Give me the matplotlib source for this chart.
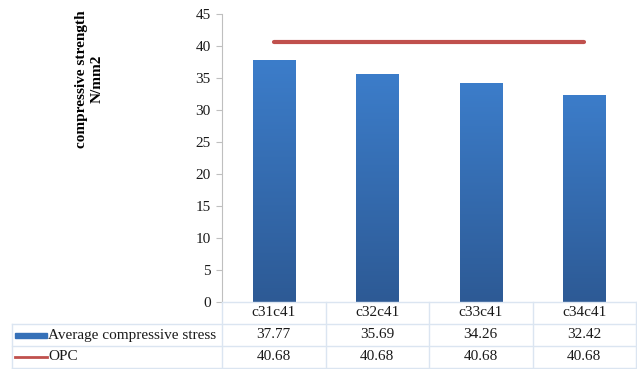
import matplotlib
matplotlib.use("Agg")
import matplotlib.pyplot as plt
import numpy as np
from matplotlib.colors import LinearSegmentedColormap
from matplotlib.transforms import blended_transform_factory
from matplotlib.patches import Rectangle

categories = ["c31c41", "c32c41", "c33c41", "c34c41"]
avg_stress = [37.77, 35.69, 34.26, 32.42]
opc = [40.68, 40.68, 40.68, 40.68]
series_names = ["Average compressive stress", "OPC"]
yticks = [0, 5, 10, 15, 20, 25, 30, 35, 40, 45]

plt.rcParams['font.family'] = ['Liberation Serif', 'DejaVu Serif']

W, H = 637, 369
fig = plt.figure(figsize=(W / 100, H / 100), dpi=100)
ax = fig.add_axes([222 / W, 1 - 302 / H, 414 / W, 288 / H])

x = np.arange(len(categories))
bars = ax.bar(x, avg_stress, width=0.41, color="#3570b8", edgecolor="none", zorder=2)
cmap = LinearSegmentedColormap.from_list("g", ["#2d5a95", "#3c7dca"])
grad = np.linspace(0, 1, 256).reshape(-1, 1)
for b in bars:
    x0, y0, w, h = b.get_x(), b.get_y(), b.get_width(), b.get_height()
    im = ax.imshow(grad, cmap=cmap, origin="lower", aspect="auto",
                   extent=[x0, x0 + w, y0, y0 + h], zorder=3)
    im.set_clip_path(b)

ax.plot(x, opc, color="#c0504d", lw=3, solid_capstyle="round", zorder=4)

ax.set_xlim(-0.5, len(categories) - 0.5)
ax.set_ylim(0, 45)
ax.set_yticks(yticks)
ax.set_xticks([])
for s in ["top", "right", "bottom"]:
    ax.spines[s].set_visible(False)
ax.spines["left"].set_color("#bfbfbf")
ax.tick_params(axis="y", length=4, color="#bfbfbf", labelsize=11, pad=4, labelcolor="#1a1a1a")

fig.text(89 / W, 1 - 79 / H, "compressive strength\nN/mm2", rotation=90, ha="center", va="center",
         fontsize=11, fontweight="bold", linespacing=1.25)

# data table
gc = "#dbe5f1"
tr = blended_transform_factory(ax.transData, fig.transFigure)
ft = fig.transFigure
row_y = [302, 324, 346, 368]
ry = [1 - v / H for v in row_y]
left_px = 12
fig.add_artist(plt.Line2D([222 / W, 636 / W], [ry[0], ry[0]], color=gc, lw=1, transform=ft))
for yy in ry[1:]:
    fig.add_artist(plt.Line2D([left_px / W, 636 / W], [yy, yy], color=gc, lw=1, transform=ft))
for i in range(len(categories) + 1):
    xv = i - 0.5
    ax.plot([xv, xv], [ry[0], ry[3]], color=gc, lw=1, transform=tr, clip_on=False)
fig.add_artist(plt.Line2D([left_px / W, left_px / W], [ry[1], ry[3]], color=gc, lw=1, transform=ft))

fs = 11
tc = "#1a1a1a"
for i, c in enumerate(categories):
    ax.text(i, (ry[0] + ry[1]) / 2, c, transform=tr, ha="center", va="center", fontsize=fs, color=tc)
    ax.text(i, (ry[1] + ry[2]) / 2, f"{avg_stress[i]:.2f}", transform=tr, ha="center", va="center", fontsize=fs, color=tc)
    ax.text(i, (ry[2] + ry[3]) / 2, f"{opc[i]:.2f}", transform=tr, ha="center", va="center", fontsize=fs, color=tc)

ym1 = (ry[1] + ry[2]) / 2
ym2 = (ry[2] + ry[3]) / 2
fig.add_artist(Rectangle((15 / W, ym1 - 2.5 / H), 32 / W, 5 / H, transform=ft, color="#3570b8"))
fig.add_artist(plt.Line2D([15 / W, 47 / W], [ym2, ym2], color="#c0504d", lw=2, transform=ft))
fig.text(48 / W, ym1, series_names[0], ha="left", va="center", fontsize=fs, color=tc)
fig.text(48 / W, ym2, series_names[1], ha="left", va="center", fontsize=fs, color=tc)

fig.savefig("out.png", dpi=100)
